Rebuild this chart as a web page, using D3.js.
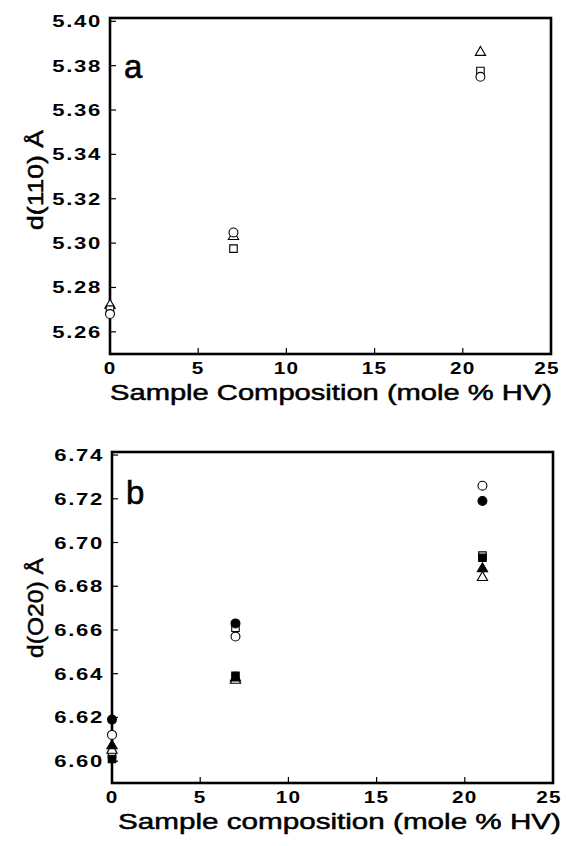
<!DOCTYPE html>
<html>
<head>
<meta charset="utf-8">
<title>d-spacing vs composition</title>
<style>
  body { margin: 0; background: #fff; }
  svg { display: block; }
  text { font-family: "Liberation Sans", Arial, sans-serif; fill: #000; }
</style>
</head>
<body>
<svg width="566" height="846"></svg>
<script src="https://d3js.org/d3.v7.min.js"></script>
<script>
// shared x data
const xTicks = [0, 5, 10, 15, 20, 25];
const composition = [0, 7, 21];

// panel a : d(110)
const aTicks = [5.26, 5.28, 5.30, 5.32, 5.34, 5.36, 5.38, 5.40];
const aTriangle = [5.272, 5.303, 5.386];
const aSquare = [5.270, 5.2975, 5.3776];
const aCircle = [5.268, 5.3048, 5.375];

// panel b : d(020)
const bTicks = [6.60, 6.62, 6.64, 6.66, 6.68, 6.70, 6.72, 6.74];
const bOpenCircle = [6.612, 6.657, 6.726];
const bFilledCircle = [6.619, 6.663, 6.719];
const bOpenSquare = [6.603, 6.661, 6.694];
const bFilledSquare = [6.601, 6.639, 6.693];
const bOpenTriangle = [6.605, 6.637, 6.684];
const bFilledTriangle = [6.607, 6.638, 6.688];

const svg = d3.select("svg");

const shapes = {
  circle: d3.symbol().type(d3.symbolCircle).size(62),
  square: d3.symbol().type(d3.symbolSquare).size(56),
  triangle: d3.symbol().type(d3.symbolTriangle).size(46)
};

function panel(opt) {
  const x = d3.scaleLinear().domain([0, 25]).range([opt.left, opt.right]);
  const y = d3.scaleLinear().domain(opt.yDomain).range([opt.bottom, opt.top]);
  const g = svg.append("g");

  // inward ticks on left
  g.append("g").selectAll("line")
    .data(opt.yTicks)
    .join("line")
      .attr("x1", opt.left).attr("x2", opt.left + 6)
      .attr("y1", d => y(d)).attr("y2", d => y(d))
      .attr("stroke", "#000").attr("stroke-width", 1.2);

  // inward ticks on bottom
  g.append("g").selectAll("line")
    .data(xTicks.slice(1, -1))
    .join("line")
      .attr("x1", d => x(d)).attr("x2", d => x(d))
      .attr("y1", opt.bottom).attr("y2", opt.bottom - 6)
      .attr("stroke", "#000").attr("stroke-width", 1.2);

  // frame
  g.append("rect")
    .attr("x", opt.left).attr("y", opt.top)
    .attr("width", opt.right - opt.left).attr("height", opt.bottom - opt.top)
    .attr("fill", "none").attr("stroke", "#000").attr("stroke-width", 2.6);

  // y tick labels (wide face, so stretch horizontally)
  g.append("g").selectAll("text")
    .data(opt.yTicks)
    .join("text")
      .attr("transform", d => `translate(${opt.left - 8},${y(d) + 6}) scale(1.3,1)`)
      .attr("text-anchor", "end")
      .attr("font-size", 17)
      .attr("font-weight", "bold")
      .attr("letter-spacing", "1.3px")
      .text(d => d.toFixed(2));

  // x tick labels
  g.append("g").selectAll("text")
    .data(xTicks)
    .join("text")
      .attr("transform", d => `translate(${x(d) - (d === 25 ? 4 : 0)},${opt.bottom + 20}) scale(1.22,1)`)
      .attr("text-anchor", "middle")
      .attr("font-size", 17)
      .attr("font-weight", "bold")
      .attr("letter-spacing", "1px")
      .text(d => d);

  // x title
  g.append("text")
    .attr("x", opt.titleX0).attr("y", opt.bottom + 46)
    .attr("font-size", 22)
    .attr("stroke", "#000").attr("stroke-width", 0.5)
    .attr("textLength", opt.titleX1 - opt.titleX0)
    .attr("lengthAdjust", "spacingAndGlyphs")
    .text(opt.xTitle);

  // y title
  g.append("text")
    .attr("transform", `translate(43,${opt.yTitleMid}) rotate(-90)`)
    .attr("text-anchor", "middle")
    .attr("font-size", 22)
    .attr("stroke", "#000").attr("stroke-width", 0.5)
    .attr("textLength", 100)
    .attr("lengthAdjust", "spacingAndGlyphs")
    .text(opt.yTitle);

  // panel letter
  g.append("text")
    .attr("x", opt.left + 14).attr("y", opt.letterY)
    .attr("font-size", 33)
    .attr("stroke", "#000").attr("stroke-width", 0.6)
    .text(opt.letter);

  // markers
  const pts = g.append("g");
  opt.series.forEach(s => {
    pts.append("g").selectAll("path")
      .data(s.values)
      .join("path")
        .attr("d", shapes[s.shape])
        .attr("transform", (d, i) => `translate(${x(composition[i])},${y(d)})`)
        .attr("fill", s.filled ? "#000" : "#fff")
        .attr("stroke", "#000")
        .attr("stroke-width", 1.1);
  });
}

panel({
  left: 110, right: 551, top: 18, bottom: 354,
  yDomain: [5.25, 5.4015], yTicks: aTicks,
  xTitle: "Sample Composition (mole % HV)", titleX0: 110, titleX1: 552,
  yTitle: "d(110) Å", yTitleMid: 180,
  letter: "a", letterY: 78,
  series: [
    { values: aTriangle, shape: "triangle", filled: false },
    { values: aSquare, shape: "square", filled: false },
    { values: aCircle, shape: "circle", filled: false }
  ]
});

panel({
  left: 112, right: 553, top: 452, bottom: 783,
  yDomain: [6.59, 6.7414], yTicks: bTicks,
  xTitle: "Sample composition (mole % HV)", titleX0: 118, titleX1: 561,
  yTitle: "d(O20) Å", yTitleMid: 608,
  letter: "b", letterY: 504,
  series: [
    { values: bOpenSquare, shape: "square", filled: false },
    { values: bOpenTriangle, shape: "triangle", filled: false },
    { values: bOpenCircle, shape: "circle", filled: false },
    { values: bFilledSquare, shape: "square", filled: true },
    { values: bFilledTriangle, shape: "triangle", filled: true },
    { values: bFilledCircle, shape: "circle", filled: true }
  ]
});
</script>
</body>
</html>
